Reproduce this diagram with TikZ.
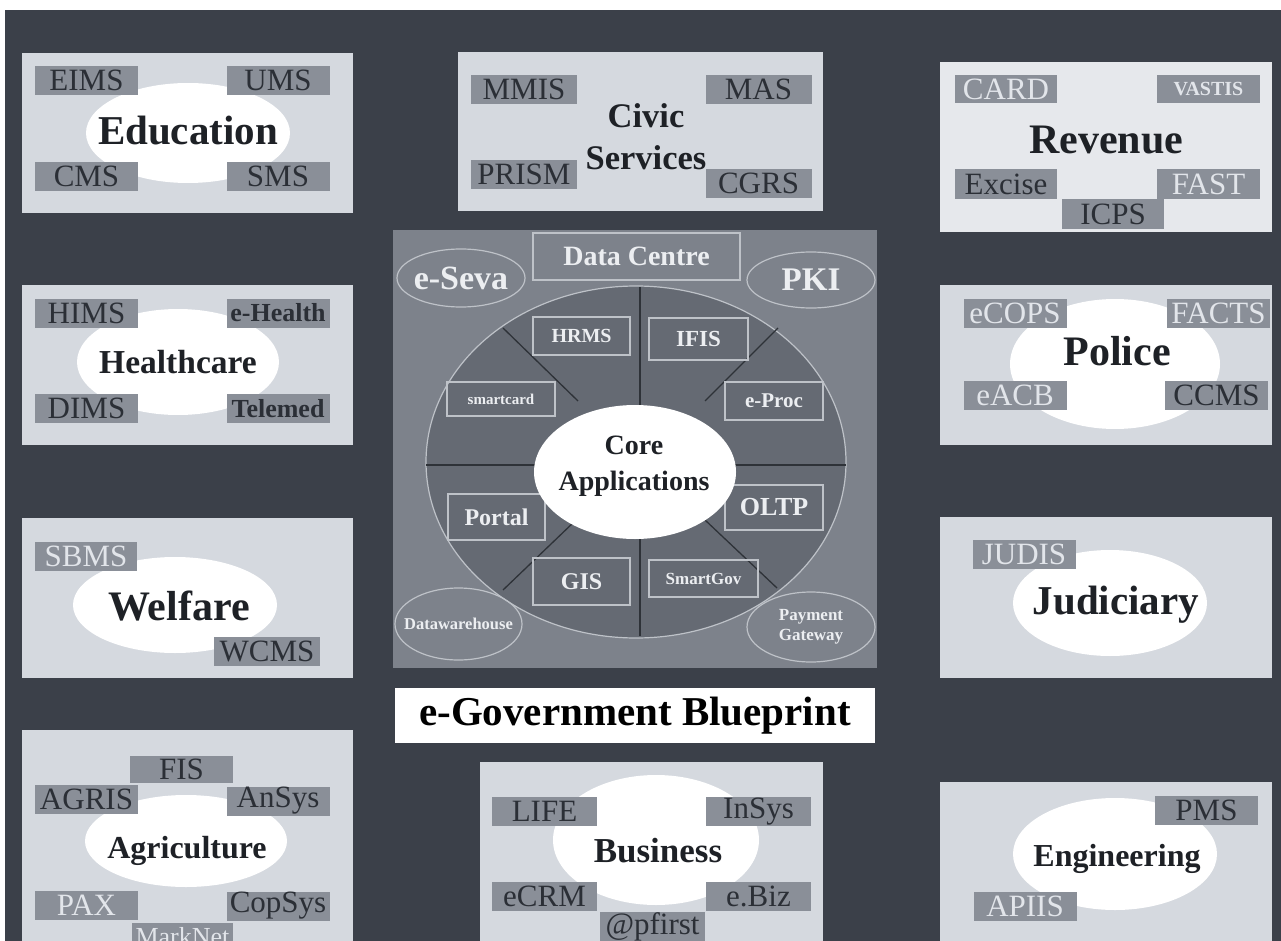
\documentclass[tikz,border=0pt]{standalone}
\usepackage{fontspec}
\setmainfont{Liberation Serif}
\usetikzlibrary{shapes.geometric}
\definecolor{bgdark}{HTML}{3B4049}
\definecolor{panelgray}{HTML}{D5D9DF}
\definecolor{lblgray}{HTML}{8A8F98}
\definecolor{lbldark}{HTML}{2B2F36}
\definecolor{lbllight}{HTML}{E2E5EA}
\definecolor{titledark}{HTML}{1E2126}
\definecolor{cpanel}{HTML}{7D828B}
\definecolor{cell}{HTML}{656A73}
\definecolor{cline}{HTML}{BEC2C8}
\definecolor{ctext}{HTML}{ECEEF1}
\definecolor{sline}{HTML}{2E3238}
\newcommand\fsz[2]{\fontsize{#1}{#2}\selectfont}
\begin{document}
\begin{tikzpicture}[x=1pt,y=-1pt,
  panel/.style={rectangle, fill=panelgray, draw=none, inner sep=0pt},
  hole/.style={ellipse, fill=white, draw=none, inner sep=0pt},
  lbl/.style={rectangle, fill=lblgray, inner sep=0pt, minimum width=103pt, minimum height=29pt, font=\fsz{31}{31}},
  dk/.style={text=lbldark},
  lt/.style={text=lbllight},
  ttl/.style={font=\bfseries\fsz{42}{44}, text=titledark, align=center, inner sep=0pt},
  cbox/.style={rectangle, draw=cline, line width=1.2pt, inner sep=0pt, text=ctext, font=\bfseries},
  cell/.style={ellipse, draw=cline, line width=1.2pt, inner sep=0pt, text=ctext, font=\bfseries, align=center},
  ctxt/.style={inner sep=0pt, text=ctext, font=\bfseries, align=center},
  sector/.style={draw=sline, line width=1.3pt}
]
\useasboundingbox (0,0) rectangle (1281,941);
\fill[white] (0,0) rectangle (1281,941);
\fill[bgdark] (5,10) rectangle (1281,941);

% ---------- Education ----------
\node[panel, minimum width=331pt, minimum height=160pt] (edu) at (187.5,133) {};
\node[hole, minimum width=204pt, minimum height=100pt] (eduh) at (188,133) {};
\node[lbl, dk] (eims) at (86.5,80.5) {EIMS};
\node[lbl, dk] (ums) at (278,80.5) {UMS};
\node[lbl, dk] (cms) at (86.5,176.5) {CMS};
\node[lbl, dk] (sms) at (278,176.5) {SMS};
\node[ttl, font=\bfseries\fsz{41}{43}] (edut) at (188,131) {Education};

% ---------- Civic Services ----------
\node[panel, minimum width=365pt, minimum height=159pt] (civ) at (640.5,131.5) {};
\node[lbl, dk, minimum width=106pt] (mmis) at (524,89.5) {MMIS};
\node[lbl, dk, minimum width=106pt] (mas) at (758.5,89.5) {MAS};
\node[lbl, dk, minimum width=106pt] (prism) at (524,174.5) {PRISM};
\node[lbl, dk, minimum width=106pt] (cgrs) at (758.5,183.5) {CGRS};
\node[ttl, font=\bfseries\fsz{34.5}{42}] (civt) at (646,137) {Civic\\Services};

% ---------- Revenue ----------
\node[panel, minimum width=332pt, minimum height=170pt, fill=panelgray!60!white] (rev) at (1106,147) {};
\node[lbl, lt, minimum width=102pt, minimum height=28pt] (card) at (1006,89) {CARD};
\node[lbl, lt, minimum width=103pt, minimum height=28pt, font=\bfseries\fsz{20}{20}] (vastis) at (1208.5,89) {VASTIS};
\node[lbl, dk, minimum width=102pt, minimum height=30pt] (excise) at (1006,184) {Excise};
\node[lbl, lt, minimum width=103pt, minimum height=30pt] (fast) at (1208.5,184) {FAST};
\node[lbl, dk, minimum width=102pt, minimum height=30pt] (icps) at (1113,214) {ICPS};
\node[ttl] (revt) at (1106,140) {Revenue};

% ---------- Healthcare ----------
\node[panel, minimum width=331pt, minimum height=160pt] (hea) at (187.5,365) {};
\node[hole, minimum width=202pt, minimum height=106pt] (heah) at (178,362) {};
\node[lbl, dk] (hims) at (86.5,313) {HIMS};
\node[lbl, dk, font=\bfseries\fsz{26}{26}] (ehealth) at (278,313) {e-Health};
\node[lbl, dk] (dims) at (86.5,408.5) {DIMS};
\node[lbl, dk, font=\bfseries\fsz{26}{26}] (telemed) at (278,408.5) {Telemed};
\node[ttl, font=\bfseries\fsz{33.5}{35}] (heat) at (178,362) {Healthcare};

% ---------- Police ----------
\node[panel, minimum width=332pt, minimum height=160pt] (pol) at (1106,365) {};
\node[hole, minimum width=210pt, minimum height=130pt] (polh) at (1115,364) {};
\node[lbl, lt] (ecops) at (1015,313) {eCOPS};
\node[lbl, lt] (facts) at (1218.5,313) {FACTS};
\node[lbl, lt] (eacb) at (1015,395.5) {eACB};
\node[lbl, dk] (ccms) at (1216.5,395.5) {CCMS};
\node[ttl] (polt) at (1117,351) {Police};

% ---------- Welfare ----------
\node[panel, minimum width=331pt, minimum height=160pt] (wel) at (187.5,598) {};
\node[hole, minimum width=204pt, minimum height=96pt] (welh) at (175,605) {};
\node[lbl, lt, minimum width=102pt] (sbms) at (86,556.5) {SBMS};
\node[lbl, dk, minimum width=106pt] (wcms) at (267,651.5) {WCMS};
\node[ttl] (welt) at (179,606) {Welfare};

% ---------- Judiciary ----------
\node[panel, minimum width=332pt, minimum height=161pt] (jud) at (1106,597.5) {};
\node[hole, minimum width=194pt, minimum height=106pt] (judh) at (1110,603) {};
\node[lbl, lt] (judis) at (1024,554.5) {JUDIS};
\node[ttl, font=\bfseries\fsz{41}{43}] (judt) at (1116,605) {Judiciary};

% ---------- Agriculture ----------
\node[panel, minimum width=331pt, minimum height=230pt] (agr) at (187.5,845) {};
\node[hole, minimum width=202pt, minimum height=92pt] (agrh) at (186,841) {};
\node[lbl, dk, minimum height=27pt] (fis) at (181.5,769.5) {FIS};
\node[lbl, dk] (agris) at (86.5,799) {AGRIS};
\node[lbl, dk] (ansys) at (278,801) {AnSys};
\node[lbl, lt] (pax) at (86.5,905.5) {PAX};
\node[lbl, dk] (copsys) at (278,906) {CopSys};
\node[lbl, lt, minimum width=101pt, font=\fsz{26}{26}] (marknet) at (182.5,937) {MarkNet};
\node[ttl, font=\bfseries\fsz{32}{34}] (agrt) at (187,851) {Agriculture};

% ---------- Business ----------
\node[panel, minimum width=343pt, minimum height=198pt] (bus) at (651.5,861) {};
\node[hole, minimum width=206pt, minimum height=130pt] (bush) at (656,840) {};
\node[lbl, dk, minimum width=105pt] (life) at (544.5,811.5) {LIFE};
\node[lbl, dk, minimum width=105pt] (insys) at (758.5,811.5) {InSys};
\node[lbl, dk, minimum width=105pt] (ecrm) at (544.5,896.5) {eCRM};
\node[lbl, dk, minimum width=105pt] (ebiz) at (758.5,896.5) {e.Biz};
\node[lbl, dk, minimum width=105pt, minimum height=30pt] (pfirst) at (652.5,927) {@pfirst};
\node[ttl, font=\bfseries\fsz{35}{37}] (bust) at (658,851) {Business};

% ---------- Engineering ----------
\node[panel, minimum width=332pt, minimum height=178pt] (eng) at (1106,871) {};
\node[hole, minimum width=204pt, minimum height=112pt] (engh) at (1115,854) {};
\node[lbl, dk] (pms) at (1206.5,810.5) {PMS};
\node[lbl, lt] (apiis) at (1025,906.5) {APIIS};
\node[ttl, font=\bfseries\fsz{32}{34}] (engt) at (1117,859) {Engineering};

% ---------- Central blueprint ----------
\node[rectangle, fill=cpanel, draw=none, inner sep=0pt, minimum width=484pt, minimum height=438pt] (core) at (635,449) {};
\node[ellipse, fill=cell, draw=cline, line width=1.2pt, inner sep=0pt, minimum width=420pt, minimum height=352pt] (ring) at (636,462) {};
\coordinate (vt) at (640,287);
\coordinate (vb) at (640,636);
\coordinate (hl) at (426,465);
\coordinate (hr) at (846,465);
\coordinate (ula) at (503,328); \coordinate (ulb) at (578,401);
\coordinate (ura) at (778,328); \coordinate (urb) at (705,401);
\coordinate (lla) at (503,590); \coordinate (llb) at (575,521);
\coordinate (lra) at (777,588); \coordinate (lrb) at (705,520);
\draw[sector] (vt) -- (vb);
\draw[sector] (hl) -- (hr);
\draw[sector] (ula) -- (ulb);
\draw[sector] (ura) -- (urb);
\draw[sector] (lla) -- (llb);
\draw[sector] (lra) -- (lrb);

\node[cbox, minimum width=207pt, minimum height=47pt, font=\bfseries\fsz{28}{28}] (dc) at (636.5,256.5) {Data Centre};
\node[cell, minimum width=128pt, minimum height=58pt] (eseva) at (461,278) {};
\node[ctxt, font=\bfseries\fsz{34}{34}] (esevat) at (eseva.center) {e-Seva};
\node[cell, minimum width=128pt, minimum height=56pt] (pki) at (811,280) {};
\node[ctxt, font=\bfseries\fsz{33}{33}] (pkit) at (pki.center) {PKI};
\node[cbox, minimum width=97pt, minimum height=38pt, font=\bfseries\fsz{20}{20}] (hrms) at (581.5,336) {HRMS};
\node[cbox, minimum width=99pt, minimum height=42pt, font=\bfseries\fsz{23}{23}] (ifis) at (698.5,339) {IFIS};
\node[cbox, minimum width=108pt, minimum height=34pt, font=\bfseries\fsz{15}{15}] (smartcard) at (501,399) {smartcard};
\node[cbox, minimum width=98pt, minimum height=38pt, font=\bfseries\fsz{21}{21}] (eproc) at (774,401) {e-Proc};
\node[cbox, minimum width=97pt, minimum height=46pt, font=\bfseries\fsz{24}{24}] (portal) at (496.5,517) {Portal};
\node[cbox, minimum width=98pt, minimum height=45pt, font=\bfseries\fsz{26}{26}] (oltp) at (774,507.5) {OLTP};
\node[cbox, minimum width=97pt, minimum height=47pt, font=\bfseries\fsz{24}{24}] (gis) at (581.5,581.5) {GIS};
\node[cbox, minimum width=109pt, minimum height=37pt, font=\bfseries\fsz{17}{17}] (smartgov) at (703.5,578.5) {SmartGov};
\node[cell, minimum width=127pt, minimum height=72pt] (dw) at (458.5,624) {};
\node[ctxt, font=\bfseries\fsz{16.5}{16.5}] (dwt) at (dw.center) {Datawarehouse};
\node[cell, minimum width=128pt, minimum height=70pt] (pg) at (811,627) {};
\node[ctxt, font=\bfseries\fsz{17}{20}] (pgt) at (pg.center) {Payment\\Gateway};
\node[ellipse, fill=white, draw=none, inner sep=0pt, minimum width=202pt, minimum height=134pt] (capps) at (635,472) {};
\node[inner sep=0pt, font=\bfseries\fsz{28}{36}, text=titledark, align=center] (cappst) at (634,466) {Core\\Applications};

% ---------- Title ----------
\node[rectangle, fill=white, draw=none, inner sep=0pt, minimum width=480pt, minimum height=55pt, font=\bfseries\fsz{41}{41}, text=black] (title) at (635,715.5) {e-Government Blueprint};
\end{tikzpicture}
\end{document}
